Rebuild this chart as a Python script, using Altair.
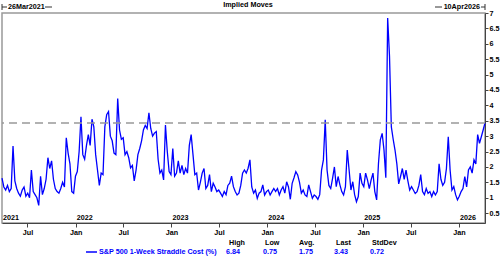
import altair as alt
import pandas as pd

series_name = "S&P 500 1-Week Straddle Cost (%)"
chart_title = "Implied Moves"
start_label = "26Mar2021"
end_label = "10Apr2026"
start_date = "2021-03-26"

# weekly readings of the straddle cost (%)
straddle = [
    1.64, 1.35, 1.25, 1.4, 1.2, 1.3, 2.68, 1.55, 1.3, 1.15,
    1.05, 1.25, 1.35, 1.05, 1.15, 1.0, 1.9, 1.2, 1.1, 1.0,
    0.75, 1.7, 1.1, 1.3, 1.6, 2.3, 1.95, 2.2, 1.6, 1.3,
    1.2, 1.15, 1.3, 1.5, 1.35, 2.95, 2.45, 2.1, 1.2, 1.15,
    1.7, 1.85, 2.5, 3.63, 2.4, 2.25, 2.7, 3.05, 2.7, 3.55,
    3.3, 2.4, 1.9,
    1.4, 1.8, 1.75, 3.3, 3.7, 3.8, 3.0, 2.85, 2.45, 2.4,
    4.22, 3.2, 2.9, 2.95, 2.4, 2.5, 2.3, 1.97, 2.05, 1.55,
    1.9, 2.4, 2.6, 2.85, 3.2, 3.35, 3.25, 3.76, 3.25, 3.0,
    3.1, 3.15, 2.25, 1.8, 1.9, 1.58, 3.36, 2.5, 1.85, 1.75,
    2.6, 1.7, 1.8, 2.2, 1.8, 2.05, 1.75, 1.95, 1.8, 2.7,
    3.05, 2.4, 1.75,
    1.8, 1.25, 1.5, 1.8, 1.95, 1.3, 1.4, 1.75, 1.2, 1.47,
    1.35, 1.2, 1.25, 1.15, 1.04, 1.2, 1.1, 1.4, 1.47, 1.7,
    1.36, 1.2, 1.09, 1.15, 1.4, 1.8, 1.9, 1.8, 1.96, 2.23,
    1.35, 1.15, 1.25, 0.98, 1.15, 1.2, 1.42, 1.09, 1.2, 1.25,
    1.09, 1.2, 1.3, 1.2, 1.3, 1.09, 1.25, 1.36, 1.15, 1.52,
    1.35, 0.95,
    1.47, 1.65, 1.85, 1.74, 1.5, 1.15, 1.25, 1.09, 1.04, 1.42,
    1.2, 0.98, 1.09, 1.04, 0.95, 1.1, 1.9, 2.23, 3.53, 1.9,
    1.4, 1.3, 1.63, 2.0, 1.36, 1.69, 1.42, 1.2, 1.09, 1.36,
    2.55, 1.9, 1.25, 1.52, 1.1, 0.87, 1.04, 1.8, 1.47, 1.36,
    1.8, 1.58, 1.3, 1.58, 1.8, 1.2, 0.93, 2.12, 2.88, 3.09,
    2.55,
    1.65, 6.84, 5.6, 3.3, 2.9, 2.55, 2.1, 1.45, 1.69, 1.95,
    1.6, 1.9, 1.55, 1.25, 1.36, 1.25, 1.14, 1.2, 1.4, 1.75,
    1.2, 1.1, 1.3, 1.14, 1.2, 1.04, 1.2, 1.09, 1.2, 2.1,
    1.6, 1.4, 1.5, 1.95, 2.98, 1.9, 1.25, 1.36, 1.1, 0.93,
    1.05, 1.2, 1.3, 1.69, 1.35, 1.9, 2.0, 1.8, 2.23, 2.1,
    3.05, 2.77, 2.98, 3.2, 3.43,
]

year_labels = ["2021", "2022", "2023", "2024", "2025", "2026"]
year_dates = ["2021-03-26", "2022-01-01", "2023-01-01", "2024-01-01", "2025-01-01", "2026-01-01"]
stat_names = ["High", "Low", "Avg.", "Last", "StdDev"]
stat_values = ["6.84", "0.75", "1.75", "3.43", "0.72"]
y_ticks = [0.5, 1, 1.5, 2, 2.5, 3, 3.5, 4, 4.5, 5, 5.5, 6, 6.5, 7]

dates = pd.date_range(start_date, periods=len(straddle), freq="7D")
df = pd.DataFrame({"date": dates, "value": straddle})
last_value = straddle[-1]

FONT = "Liberation Sans"
BLUE = "#0000ff"
FS = 7.2

x_scale = alt.Scale(domain=[dates[0].strftime("%Y-%m-%d"), dates[-1].strftime("%Y-%m-%d")], nice=False)
y_scale = alt.Scale(domain=[0.18, 7], nice=False, zero=False)

tick_vals = []
for yr in range(2021, 2027):
    for mo in (1, 7):
        if (yr == 2021 and mo == 1) or (yr == 2026 and mo == 7):
            continue
        tick_vals.append(alt.DateTime(year=yr, month=mo, date=1))

x_axis = alt.Axis(values=tick_vals, labelExpr="timeFormat(datum.value, '%b')",
                  tickSize=4, labelPadding=1, domainColor="#444", tickColor="#444",
                  labelFlush=False, labelOverlap=False, title=None)
y_axis = alt.Axis(orient="right", values=y_ticks, format=".1~f", tickSize=3,
                  labelPadding=1, domainColor="#444", tickColor="#444",
                  labelFlush=False, labelOverlap=False, labelBound=False, title=None)

line = alt.Chart(df).mark_line(color=BLUE, strokeWidth=1.3).encode(
    x=alt.X("date:T", scale=x_scale, axis=x_axis),
    y=alt.Y("value:Q", scale=y_scale, axis=y_axis),
)

dash = alt.Chart(pd.DataFrame({"v": [last_value]})).mark_rule(
    color="#999999", strokeDash=[8, 5], strokeWidth=1.5
).encode(y=alt.Y("v:Q", scale=y_scale, axis=y_axis))

years = alt.Chart(pd.DataFrame({"d": year_dates, "t": year_labels})).mark_text(
    align="left", baseline="middle", dx=1, font=FONT, fontSize=FS, fontWeight="bold", color="black"
).encode(x=alt.X("d:T", scale=x_scale, axis=x_axis), y=alt.value(205), text="t:N")


def label(txt, x, y, align="left", color="black"):
    return alt.Chart(pd.DataFrame({"t": [txt]})).mark_text(
        align=align, baseline="middle", font=FONT, fontSize=FS, fontWeight="bold", color=color
    ).encode(x=alt.value(x), y=alt.value(y), text="t:N")


def seg(x1, x2, y1, y2, color="#333", w=1):
    return alt.Chart(pd.DataFrame({"a": [0]})).mark_rule(color=color, strokeWidth=w).encode(
        x=alt.value(x1), x2=alt.value(x2), y=alt.value(y1), y2=alt.value(y2))


layers = [line, dash, years,
          label(chart_title, 246, -8, align="center"),
          label(start_label, 6, -6),
          seg(0, 5, -6, -6), seg(0, 0, -9, -3), seg(43, 50, -6, -6),
          label(end_label, 478, -6, align="right"),
          seg(433, 440, -6, -6), seg(479, 483, -6, -6), seg(483, 483, -9, -3),
          seg(84, 95, 239, 239, color=BLUE, w=1.5),
          label(series_name, 97, 239, color=BLUE)]

head_x = [227, 263, 297, 334, 370]
val_x = [238, 275, 311, 346, 382]
for name, hx in zip(stat_names, head_x):
    layers.append(label(name, hx, 230))
for val, vx in zip(stat_values, val_x):
    layers.append(label(val, vx, 239, align="right", color=BLUE))

chart = alt.layer(*layers).properties(
    width=483, height=210,
    padding={"left": 2, "top": 13, "right": 15, "bottom": 34},
    autosize=alt.AutoSizeParams(type="none"),
).configure_view(stroke="#999999", strokeWidth=1.5).configure_axis(
    grid=False, labelFont=FONT, labelFontSize=FS, labelFontWeight="bold", labelColor="black",
)

chart.save("out.html", embed_options={"renderer": "svg", "actions": False})
